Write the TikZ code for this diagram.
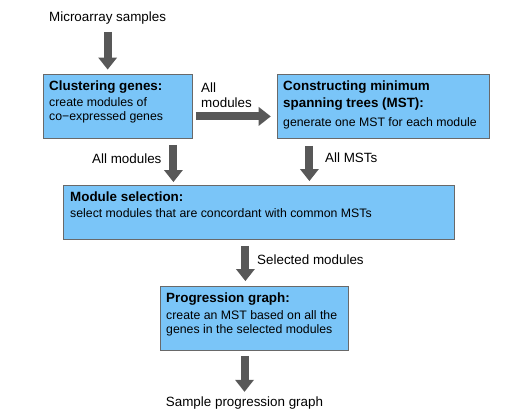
\documentclass[tikz,border=0pt]{standalone}
\usepackage{fontspec}
\setmainfont{Liberation Sans}
\usetikzlibrary{arrows.meta,positioning,calc}
\definecolor{boxblue}{RGB}{122,197,248}
\definecolor{boxline}{RGB}{105,105,105}
\definecolor{arrowgray}{RGB}{88,88,88}
\tikzset{
	stage/.style={draw=boxline, fill=boxblue, line width=0.8pt, anchor=north west, inner sep=0pt},
	stagetext/.style={anchor=north west, inner sep=0pt, align=left, font=\fontsize{12.3}{14}\selectfont},
	flowlabel/.style={anchor=base west, inner sep=0pt, font=\fontsize{13.4}{15}\selectfont},
	fat/.style={draw=arrowgray, line width=8pt, -{Triangle[width=19pt,length=12pt,line width=0pt]}}
}
\newcommand{\stagetitle}[1]{{\bfseries\fontsize{13.4}{14}\selectfont #1}}

\begin{document}
\begin{tikzpicture}[x=1pt,y=-1pt]
				\useasboundingbox (0,0) rectangle (522,416);
				% stages
				\node[stage, minimum width=149pt, minimum height=64pt] (clust) at (43,74) {};
				\node[stage, minimum width=212pt, minimum height=64pt] (mst) at (277,74) {};
				\node[stage, minimum width=391pt, minimum height=54pt] (modsel) at (63,185) {};
				\node[stage, minimum width=188pt, minimum height=64pt] (prog) at (160,286) {};
				\node[stagetext] (clusttxt) at ([xshift=6pt,yshift=-6.5pt]clust.north west) {\stagetitle{Clustering genes:}\\[2pt] create modules of\\ co−expressed genes};
				\node[stagetext] (msttxt) at ([xshift=6pt,yshift=-6.5pt]mst.north west) {\stagetitle{Constructing minimum}\\[2.7pt] \stagetitle{spanning trees (MST):}\\[5.3pt] generate one MST for each module};
				\node[stagetext] (modseltxt) at ([xshift=7pt,yshift=-6.5pt]modsel.north west) {\stagetitle{Module selection:}\\[2pt] select modules that are concordant with common MSTs};
				\node[stagetext] (progtxt) at ([xshift=6pt,yshift=-6.5pt]prog.north west) {\stagetitle{Progression graph:}\\[3pt] create an MST based on all the\\ genes in the selected modules};
				% labels
				\node[flowlabel] (micro) at (49,21) {Microarray samples};
				\node[flowlabel, anchor=north west, align=left] (allmod) at (201,82.7) {All\\modules};
				\node[flowlabel] (allmoddown) at (92,163.3) {All modules};
				\node[flowlabel] (allmst) at (325,162.3) {All MSTs};
				\node[flowlabel] (selmod) at (257,264) {Selected modules};
				\node[flowlabel, anchor=base] (sample) at (244.5,406.7) {Sample progression graph};
				% arrows
				\draw[fat, shorten <=8pt, shorten >=4.5pt] (micro.south) -- (micro.south |- clust.north);
				\draw[fat, shorten <=3pt, shorten >=6.3pt] ([yshift=-10pt]clust.east) -- ([yshift=-10pt]mst.west);
				\draw[fat, shorten <=6pt, shorten >=3pt] ([xshift=55.5pt]clust.south) -- ([xshift=55.5pt]clust.south |- modsel.north);
				\draw[fat, shorten <=7pt, shorten >=4pt] ([xshift=-74pt]mst.south) -- ([xshift=-74pt]mst.south |- modsel.north);
				\draw[fat, shorten <=6pt, shorten >=5pt] ([xshift=-13.5pt]modsel.south) -- ([xshift=-13.5pt]modsel.south |- prog.north);
				\draw[fat, shorten <=5pt, shorten >=5pt] (prog.south -| sample.north) -- (sample.north);
			\end{tikzpicture}
\end{document}
